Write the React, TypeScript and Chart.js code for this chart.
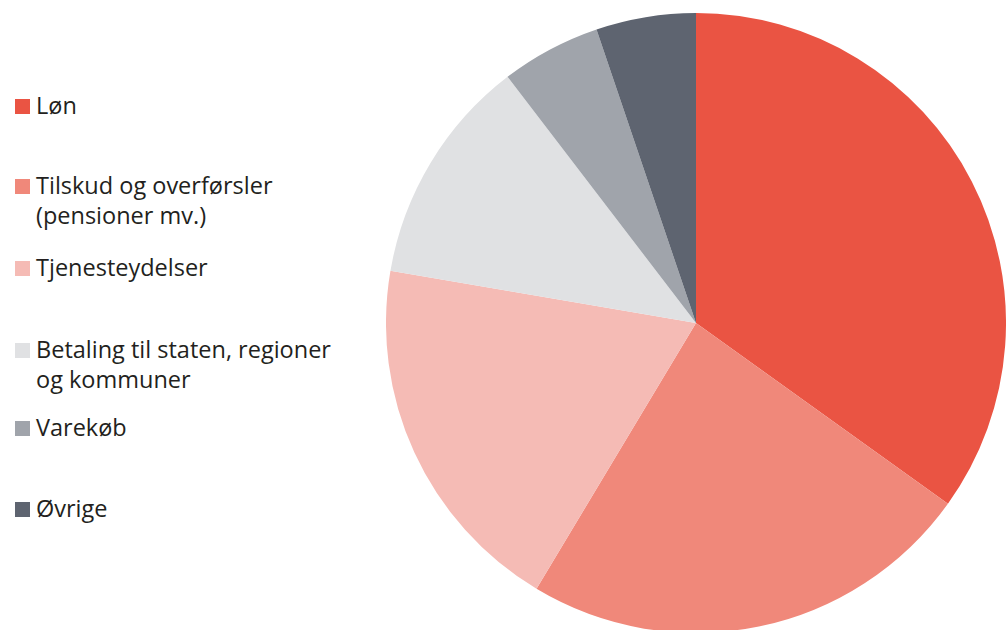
import React, { useEffect, useRef } from "react";
import { Chart, registerables } from "chart.js";
Chart.register(...registerables);

const categories: string[][] = [
  ["Løn"],
  ["Tilskud og overførsler", "(pensioner mv.)"],
  ["Tjenesteydelser"],
  ["Betaling til staten, regioner", "og kommuner"],
  ["Varekøb"],
  ["Øvrige"],
];
const values = [34.9, 23.7, 19.1, 11.9, 5.2, 5.2];
const colors = ["#EA5443", "#F0887A", "#F5BBB5", "#E0E1E3", "#A0A4AB", "#5E6470"];

// legend layout (top of each legend entry, px)
const legendTops = [90, 170, 252, 334, 412, 493];

const FONT = "'Open Sans', Lato, sans-serif";

export default function App() {
  const ref = useRef<HTMLCanvasElement | null>(null);
  useEffect(() => {
    if (!ref.current) return;
    const chart = new Chart(ref.current, {
      type: "pie",
      data: {
        labels: categories.map((c) => c.join(" ")),
        datasets: [
          {
            data: values,
            backgroundColor: colors,
            borderWidth: 0,
          },
        ],
      },
      options: {
        responsive: false,
        maintainAspectRatio: false,
        animation: false,
        layout: { padding: 0 },
        plugins: {
          legend: { display: false },
          tooltip: { enabled: false },
        },
      },
    });
    return () => chart.destroy();
  }, []);

  return (
    <div
      style={{
        position: "fixed",
        left: 0,
        top: 0,
        width: 1008,
        height: 630,
        overflow: "hidden",
        background: "#fff",
      }}
    >
      <canvas
        ref={ref}
        width={620}
        height={620}
        style={{ position: "absolute", left: 386, top: 13, width: 620, height: 620 }}
      />
      {categories.map((lines, i) => (
        <div
          key={i}
          style={{
            position: "absolute",
            left: 15,
            top: legendTops[i],
            display: "flex",
            alignItems: "baseline",
            fontFamily: FONT,
            fontSize: 23.5,
            lineHeight: "30px",
            color: "#231F20",
            whiteSpace: "nowrap",
          }}
        >
          <span
            style={{
              display: "inline-block",
              width: 15,
              height: 15,
              background: colors[i],
              marginRight: 6,
              flex: "none",
            }}
          />
          <div>
            {lines.map((l, j) => (
              <div key={j}>{l}</div>
            ))}
          </div>
        </div>
      ))}
    </div>
  );
}
